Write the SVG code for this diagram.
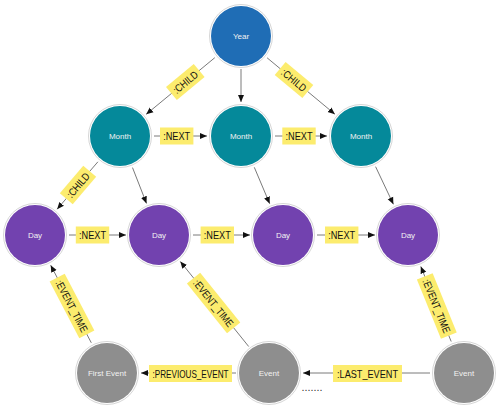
<svg xmlns="http://www.w3.org/2000/svg" width="500" height="408" viewBox="0 0 500 408">
<defs>
<marker id="arr" markerUnits="userSpaceOnUse" markerWidth="8" markerHeight="8" viewBox="0 0 8 8" refX="7" refY="4" orient="auto">
<path d="M0,1 L7,4 L0,7 Z" fill="#111"/>
</marker>
</defs>
<style>
.ring{fill:#fff;stroke:#d6d6d6;stroke-width:1}
.year{fill:#1f6db5}
.month{fill:#05899a}
.day{fill:#7242af}
.event{fill:#8e8e8e}
.nt{font-family:"Liberation Sans",Arial,sans-serif;font-size:8px;fill:#f2f2f2;text-anchor:middle;dominant-baseline:central}
.edge{stroke:#7a7a7a;stroke-width:1;fill:none;marker-end:url(#arr)}
.lb{fill:#fcec6e}
.lt{font-family:"Liberation Sans",Arial,sans-serif;font-size:10.5px;fill:#111;text-anchor:middle;dominant-baseline:central}
</style>
<rect width="500" height="408" fill="#fff"/>
<g id="connectors">
<line class="edge" x1="214.8" y1="57.7" x2="146.2" y2="114.3"/>
<line class="edge" x1="241" y1="69" x2="241" y2="102"/>
<line class="edge" x1="267.1" y1="57.8" x2="334.9" y2="114.2"/>
<line class="edge" x1="154" y1="136" x2="207" y2="136"/>
<line class="edge" x1="275" y1="136" x2="327" y2="136"/>
<line class="edge" x1="97.9" y1="161.8" x2="57.1" y2="209.2"/>
<line class="edge" x1="132.5" y1="167.6" x2="146.5" y2="203.4"/>
<line class="edge" x1="254.3" y1="167.3" x2="269.7" y2="203.7"/>
<line class="edge" x1="375.6" y1="166.7" x2="393.4" y2="204.3"/>
<line class="edge" x1="69" y1="235" x2="126" y2="235"/>
<line class="edge" x1="193" y1="235" x2="250" y2="235"/>
<line class="edge" x1="317" y1="235" x2="375" y2="235"/>
<line class="edge" x1="91.3" y1="342.8" x2="50.7" y2="265.2"/>
<line class="edge" x1="248.7" y1="346.5" x2="180.3" y2="261.5"/>
<line class="edge" x1="451.2" y1="341.5" x2="420.8" y2="266.5"/>
<line class="edge" x1="236" y1="373" x2="141" y2="373"/>
<line class="edge" x1="430" y1="373" x2="303" y2="373"/>
<g transform="translate(185.3,82) rotate(-39.6)"><rect class="lb" x="-18" y="-8.5" width="36" height="17"/><text class="lt" textLength="29" lengthAdjust="spacingAndGlyphs">:CHILD</text></g>
<g transform="translate(294,80) rotate(39.8)"><rect class="lb" x="-18" y="-8.5" width="36" height="17"/><text class="lt" textLength="29" lengthAdjust="spacingAndGlyphs">:CHILD</text></g>
<g transform="translate(78,185) rotate(-49.4)"><rect class="lb" x="-18" y="-8.5" width="36" height="17"/><text class="lt" textLength="29" lengthAdjust="spacingAndGlyphs">:CHILD</text></g>
<g transform="translate(176.7,136)"><rect class="lb" x="-16.7" y="-8.5" width="33.4" height="17"/><text class="lt" textLength="27" lengthAdjust="spacingAndGlyphs">:NEXT</text></g>
<g transform="translate(299,136)"><rect class="lb" x="-16.7" y="-8.5" width="33.4" height="17"/><text class="lt" textLength="27" lengthAdjust="spacingAndGlyphs">:NEXT</text></g>
<g transform="translate(92.5,235)"><rect class="lb" x="-16.7" y="-8.5" width="33.4" height="17"/><text class="lt" textLength="27" lengthAdjust="spacingAndGlyphs">:NEXT</text></g>
<g transform="translate(217.3,235)"><rect class="lb" x="-16.7" y="-8.5" width="33.4" height="17"/><text class="lt" textLength="27" lengthAdjust="spacingAndGlyphs">:NEXT</text></g>
<g transform="translate(341.7,235)"><rect class="lb" x="-16.7" y="-8.5" width="33.4" height="17"/><text class="lt" textLength="27" lengthAdjust="spacingAndGlyphs">:NEXT</text></g>
<g transform="translate(72,306) rotate(62.4)"><rect class="lb" x="-32" y="-8.5" width="64" height="17"/><text class="lt" textLength="57" lengthAdjust="spacingAndGlyphs">:EVENT_TIME</text></g>
<g transform="translate(213.6,303) rotate(51.2)"><rect class="lb" x="-32" y="-8.5" width="64" height="17"/><text class="lt" textLength="57" lengthAdjust="spacingAndGlyphs">:EVENT_TIME</text></g>
<g transform="translate(436.8,306) rotate(67.9)"><rect class="lb" x="-32" y="-8.5" width="64" height="17"/><text class="lt" textLength="57" lengthAdjust="spacingAndGlyphs">:EVENT_TIME</text></g>
<g transform="translate(190.5,373.5)"><rect class="lb" x="-41.5" y="-8.5" width="83" height="17"/><text class="lt" textLength="76" lengthAdjust="spacingAndGlyphs">:PREVIOUS_EVENT</text></g>
<g transform="translate(367.5,373.5)"><rect class="lb" x="-34.5" y="-8.5" width="69" height="17"/><text class="lt" textLength="61" lengthAdjust="spacingAndGlyphs">:LAST_EVENT</text></g>
<text x="312" y="391" font-family="Liberation Sans, Arial, sans-serif" font-size="10" fill="#333" text-anchor="middle" textLength="21" lengthAdjust="spacingAndGlyphs">.......</text>
</g>
<g id="year"><circle class="ring" cx="241" cy="36" r="31.5"/><circle class="year" cx="241" cy="36" r="30"/><text class="nt" x="241" y="36">Year</text></g>
<g id="month1"><circle class="ring" cx="120" cy="136" r="31.5"/><circle class="month" cx="120" cy="136" r="30"/><text class="nt" x="120" y="136">Month</text></g>
<g id="month2"><circle class="ring" cx="241" cy="136" r="31.5"/><circle class="month" cx="241" cy="136" r="30"/><text class="nt" x="241" y="136">Month</text></g>
<g id="month3"><circle class="ring" cx="361" cy="136" r="31.5"/><circle class="month" cx="361" cy="136" r="30"/><text class="nt" x="361" y="136">Month</text></g>
<g id="day1"><circle class="ring" cx="35" cy="235" r="31.5"/><circle class="day" cx="35" cy="235" r="30"/><text class="nt" x="35" y="235">Day</text></g>
<g id="day2"><circle class="ring" cx="159" cy="235" r="31.5"/><circle class="day" cx="159" cy="235" r="30"/><text class="nt" x="159" y="235">Day</text></g>
<g id="day3"><circle class="ring" cx="283" cy="235" r="31.5"/><circle class="day" cx="283" cy="235" r="30"/><text class="nt" x="283" y="235">Day</text></g>
<g id="day4"><circle class="ring" cx="408" cy="235" r="31.5"/><circle class="day" cx="408" cy="235" r="30"/><text class="nt" x="408" y="235">Day</text></g>
<g id="firstEvent"><circle class="ring" cx="107" cy="373" r="31.5"/><circle class="event" cx="107" cy="373" r="30"/><text class="nt" x="107" y="373">First Event</text></g>
<g id="event2"><circle class="ring" cx="269" cy="373" r="31.5"/><circle class="event" cx="269" cy="373" r="30"/><text class="nt" x="269" y="373">Event</text></g>
<g id="event3"><circle class="ring" cx="464" cy="373" r="31.5"/><circle class="event" cx="464" cy="373" r="30"/><text class="nt" x="464" y="373">Event</text></g>
</svg>
